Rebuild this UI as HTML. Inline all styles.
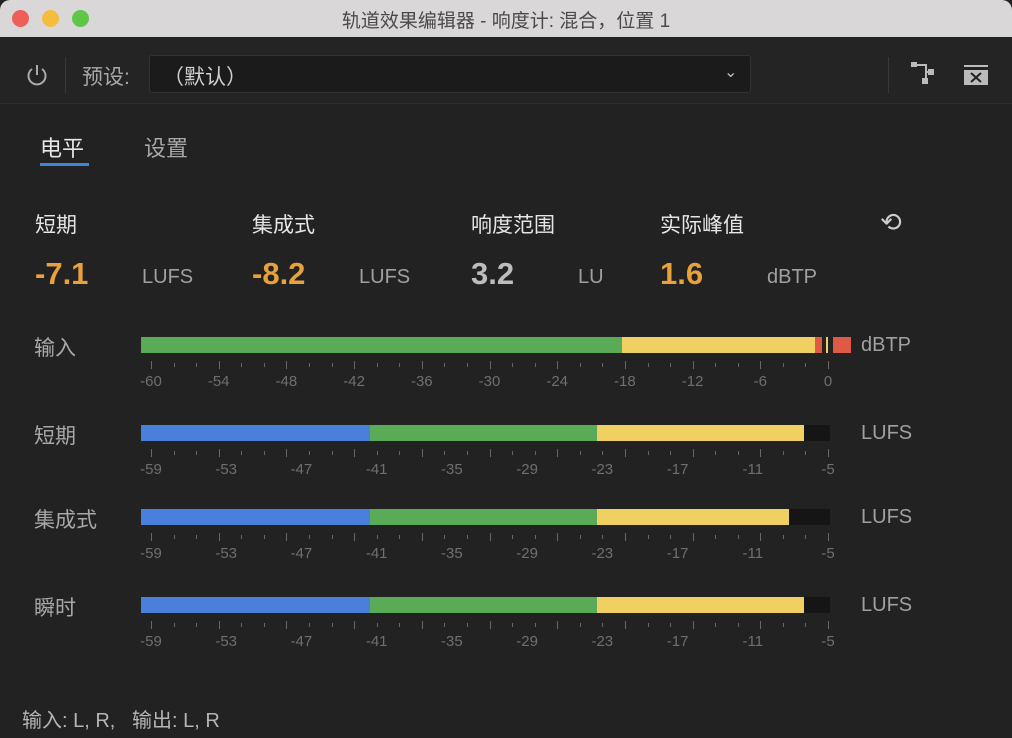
<!DOCTYPE html>
<html><head><meta charset="utf-8">
<style>
*{margin:0;padding:0;box-sizing:border-box}
body{width:1012px;height:738px;background:#222;overflow:hidden;font-family:"Liberation Sans","Noto Sans CJK SC",sans-serif;position:relative}
.a{position:absolute;white-space:nowrap}
#title{left:0;top:0;width:1012px;height:37px;background:#d9d7d7;border-radius:10px 10px 0 0}
.dot{position:absolute;top:10px;width:17px;height:17px;border-radius:50%}
#tb{left:0;top:37px;width:1012px;height:67px;background:#242424;border-bottom:1px solid #2e2e2e}
.lbl{color:#a8a8a8;font-size:21px}
.hd{color:#e6e6e6;font-size:21px}
.num{color:#e9a13b;font-size:31px;font-weight:bold}
.unit{color:#a0a0a0;font-size:20px}
.bar{position:absolute;height:16px}
.tk{position:absolute;width:1px;background:#666}
.tl{position:absolute;color:#6f6f6f;font-size:15px;transform:translateX(-50%)}
</style></head><body>
<div id="title" class="a">
 <div class="dot" style="left:12px;background:#ee5f57"></div>
 <div class="dot" style="left:42px;background:#f5bd3d"></div>
 <div class="dot" style="left:72px;background:#5dc748"></div>
 <div class="a" style="left:0;width:1012px;text-align:center;top:6px;color:#4a4a4a;font-size:19px">轨道效果编辑器 - 响度计: 混合，位置 1</div>
</div>
<div id="tb" class="a">
 <svg class="a" style="left:25px;top:26px" width="24" height="24" viewBox="0 0 24 24"><path d="M7 6 A8.5 8.5 0 1 0 17 6" fill="none" stroke="#aaa" stroke-width="2"/><line x1="12" y1="2" x2="12" y2="12" stroke="#aaa" stroke-width="2"/></svg>
 <div class="a" style="left:65px;top:20px;width:1px;height:36px;background:#383838"></div>
 <div class="a lbl" style="left:82px;top:24px">预设:</div>
 <div class="a" style="left:149px;top:18px;width:602px;height:38px;background:#1b1b1b;border:1px solid #333;border-radius:3px"></div>
 <div class="a" style="left:163px;top:24px;color:#cfcfcf;font-size:21px">（默认）</div>
 <div class="a" style="left:724px;top:25px;color:#bbb;font-size:16px">&#8964;</div>
 <div class="a" style="left:888px;top:20px;width:1px;height:36px;background:#383838"></div>
 <svg class="a" style="left:910px;top:24px" width="26" height="24"><rect x="1" y="1" width="6" height="5" fill="#bbb"/><path d="M7 4 H16 V20 M16 11 H22" stroke="#bbb" stroke-width="2" fill="none"/><rect x="18" y="8" width="6" height="6" fill="#bbb"/><rect x="12" y="17" width="6" height="6" fill="#bbb"/></svg>
 <svg class="a" style="left:963px;top:27px" width="26" height="22"><rect x="1" y="1" width="24" height="2" fill="#bbb"/><rect x="1" y="6" width="24" height="15" fill="#bbb"/><path d="M8 9 L18 18 M18 9 L8 18" stroke="#222" stroke-width="2"/></svg>
</div>
<div class="a" style="left:40px;top:131px;color:#e6e6e6;font-size:22px">电平</div>
<div class="a" style="left:40px;top:163px;width:49px;height:3px;background:#3f86d8"></div>
<div class="a" style="left:144px;top:131px;color:#a8a8a8;font-size:22px">设置</div>

<div class="a hd" style="left:35px;top:209px">短期</div>
<div class="a hd" style="left:252px;top:209px">集成式</div>
<div class="a hd" style="left:471px;top:209px">响度范围</div>
<div class="a hd" style="left:660px;top:209px">实际峰值</div>
<div class="a" style="left:880px;top:207px;color:#ccc;font-size:26px">&#10226;</div>
<div class="a num" style="left:35px;top:256px">-7.1</div>
<div class="a unit" style="left:142px;top:266px">LUFS</div>
<div class="a num" style="left:252px;top:256px">-8.2</div>
<div class="a unit" style="left:359px;top:266px">LUFS</div>
<div class="a num" style="left:471px;top:256px;color:#bdbdbd">3.2</div>
<div class="a unit" style="left:578px;top:266px">LU</div>
<div class="a num" style="left:660px;top:256px">1.6</div>
<div class="a unit" style="left:767px;top:266px">dBTP</div>

<div class="a lbl" style="left:34px;top:332px">输入</div>
<div class="a lbl" style="left:34px;top:420px">短期</div>
<div class="a lbl" style="left:34px;top:504px">集成式</div>
<div class="a lbl" style="left:34px;top:592px">瞬时</div>
<div class="a unit" style="left:861px;top:334px">dBTP</div>
<div class="a unit" style="left:861px;top:422px">LUFS</div>
<div class="a unit" style="left:861px;top:506px">LUFS</div>
<div class="a unit" style="left:861px;top:594px">LUFS</div>

<div class="bar" style="left:141px;top:337px;width:481px;background:#5aaa58"></div>
<div class="bar" style="left:622px;top:337px;width:193px;background:#f1d062"></div>
<div class="bar" style="left:815px;top:337px;width:7px;background:#df5a45"></div>
<div class="bar" style="left:826px;top:337px;width:2px;background:#f1d062"></div>
<div class="bar" style="left:833px;top:337px;width:18px;background:#df5a45"></div>

<div id="rows"></div>
<div class="a" style="left:22px;top:704px;color:#b5b5b5;font-size:20px">输入: L, R,&nbsp;&nbsp; 输出: L, R</div>
<script>
var h='';
function bars(y,yel){
 h+='<div class="bar" style="left:141px;top:'+y+'px;width:689px;background:#151515"></div>';
 h+='<div class="bar" style="left:141px;top:'+y+'px;width:229px;background:#4b7fdc"></div>';
 h+='<div class="bar" style="left:370px;top:'+y+'px;width:227px;background:#5aaa58"></div>';
 h+='<div class="bar" style="left:597px;top:'+y+'px;width:'+(yel-597)+'px;background:#f1d062"></div>';
}
function ticks(y,labels){
 var x0=151,x1=828,n=30;
 for(var i=0;i<=n;i++){var x=x0+(x1-x0)*i/n;var big=i%3==0;
  h+='<div class="tk" style="left:'+x.toFixed(1)+'px;top:'+(y+(big?0:2))+'px;height:'+(big?8:4)+'px"></div>';}
 for(var j=0;j<labels.length;j++){var x=x0+(x1-x0)*j/(labels.length-1);
  h+='<div class="tl" style="left:'+x.toFixed(1)+'px;top:'+(y+12)+'px">'+labels[j]+'</div>';}
}
ticks(361,[-60,-54,-48,-42,-36,-30,-24,-18,-12,-6,0]);
var L=[-59,-53,-47,-41,-35,-29,-23,-17,-11,-5];
bars(425,804);ticks(449,L);
bars(509,789);ticks(533,L);
bars(597,804);ticks(621,L);
document.getElementById('rows').innerHTML=h;
</script>
</body></html>
